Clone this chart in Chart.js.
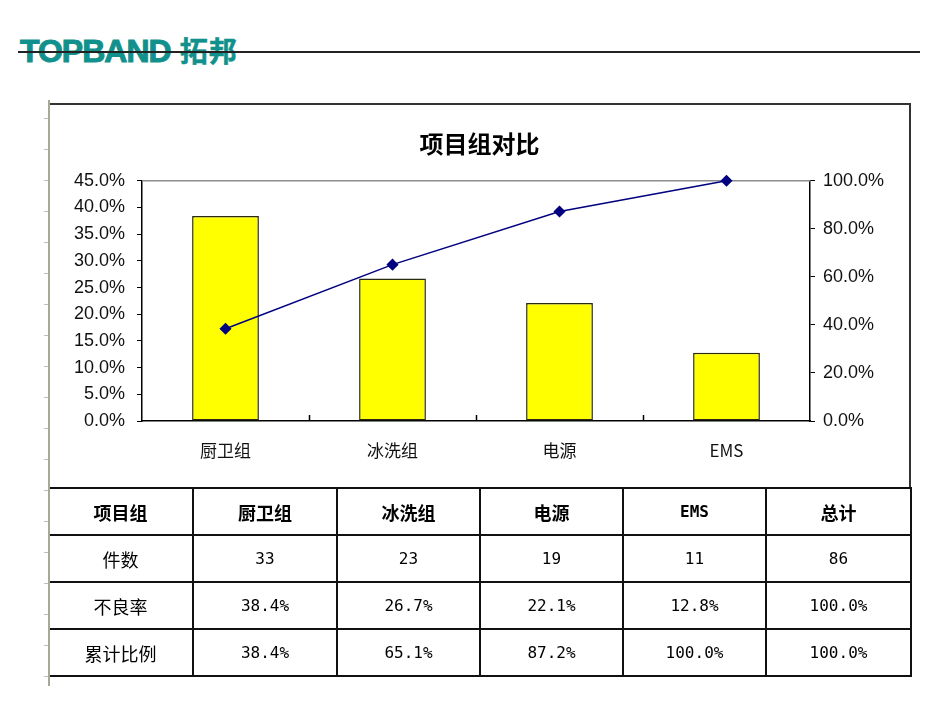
<!DOCTYPE html>
<html>
<head>
<meta charset="utf-8">
<script src="https://cdn.jsdelivr.net/npm/chart.js@4/dist/chart.umd.min.js"></script>
<style>
    body { margin: 0; width: 950px; height: 713px; background: #fff; position: relative; overflow: hidden; }
    #logo { position: absolute; left: 20px; top: 30px; line-height: 33px; color: #12918c; font: bold 32px "Liberation Sans", Arial, sans-serif; letter-spacing: -1px; white-space: nowrap; -webkit-text-stroke: 1px #12918c; }
    #logo span { font: bold 28px "Noto Sans CJK SC", sans-serif; letter-spacing: 1px; margin-left: 9px; -webkit-text-stroke: 0.5px #12918c; }
    #topLine { position: absolute; left: 18px; top: 51px; width: 902px; height: 2px; background: #222; }
    #ruler { position: absolute; left: 48px; top: 100px; width: 2px; height: 586px; background: #a8a898; }
    .rtick { position: absolute; left: 44px; width: 4px; height: 1px; background: #c0c0b0; }
    #chartBox { position: absolute; left: 50px; top: 103px; width: 861px; height: 386px; box-sizing: border-box; border-top: 2px solid #333; border-right: 2px solid #333; }
    #chartBox canvas { display: block; }
    #dataTable { position: absolute; left: 49px; top: 487px; width: 862px; border-collapse: collapse; table-layout: fixed; }
    #dataTable td { border: 2px solid #111; height: 45px; padding: 0; text-align: center; color: #000; font: 18px "Noto Sans CJK SC", sans-serif; }
    #dataTable td:first-child { border-left: none; }
    #dataTable tr.head td { font-weight: bold; }
    #dataTable td.num { font: 16px "DejaVu Sans Mono", monospace; }
    #dataTable tr.head td.num { font-weight: bold; }
</style>
</head>
<body>
<div id="logo">TOPBAND<span>拓邦</span></div>
<div id="topLine"></div>
<div id="chartBox"><canvas id="chartPareto"></canvas></div>
<table id="dataTable">
    <colgroup><col style="width:144px"><col style="width:144px"><col style="width:143px"><col style="width:143px"><col style="width:143px"><col style="width:145px"></colgroup>
    <tbody id="tableBody"></tbody>
</table>
<div id="ruler"></div>
<script>
// dati del grafico
const categorie = ['厨卫组', '冰洗组', '电源', 'EMS'];
const numeroCasi = [33, 23, 19, 11];
const totaleCasi = 86;
const tassoDifetti = [38.4, 26.7, 22.1, 12.8];     // 不良率 (%)
const cumulativo = [38.4, 65.1, 87.2, 100.0];      // 累计比例 (%)
const tassoTotale = 100.0;
const cumulativoTotale = 100.0;
const tickSinistra = { min: 0, max: 45, step: 5 };
const tickDestra = { min: 0, max: 100, step: 20 };

const titoloGrafico = '项目组对比';
const intestazioni = ['项目组', '件数', '不良率', '累计比例', '总计'];

function pct(v) { return v.toFixed(1) + '%'; }

document.addEventListener('DOMContentLoaded', function() {
    disegnaRighello();
    generaTabella();
    generaGrafico();
});

function disegnaRighello() {
    for (let y = 118; y < 686; y += 31) {
        const t = document.createElement('div');
        t.className = 'rtick';
        t.style.top = y + 'px';
        document.body.appendChild(t);
    }
}

function generaTabella() {
    const body = document.getElementById('tableBody');
    const isCjk = s => /[\u4e00-\u9fff]/.test(s);
    const cella = (v) => `<td class="${isCjk(String(v)) ? '' : 'num'}">${v}</td>`;
    const righe = [
        { cls: 'head', cells: [intestazioni[0], ...categorie, intestazioni[4]] },
        { cls: '', cells: [intestazioni[1], ...numeroCasi, totaleCasi] },
        { cls: '', cells: [intestazioni[2], ...tassoDifetti.map(pct), pct(tassoTotale)] },
        { cls: '', cells: [intestazioni[3], ...cumulativo.map(pct), pct(cumulativoTotale)] }
    ];
    body.innerHTML = righe.map(r => `<tr class="${r.cls}">${r.cells.map(cella).join('')}</tr>`).join('');
}

// cornice dell'area del grafico + tacche interne sull'asse X
const cornice = {
    id: 'cornice',
    beforeDatasetsDraw(chart) {
        const { ctx, chartArea: a } = chart;
        const x = chart.scales.x;
        ctx.save();
        ctx.strokeStyle = '#8c8c8c';
        ctx.lineWidth = 1.5;
        ctx.beginPath();
        ctx.moveTo(a.left, a.top);
        ctx.lineTo(a.right, a.top);
        ctx.stroke();
        ctx.strokeStyle = '#000';
        ctx.beginPath();
        for (let i = 0; i < categorie.length - 1; i++) {
            const px = Math.round((x.getPixelForValue(i) + x.getPixelForValue(i + 1)) / 2) + 0.5;
            ctx.moveTo(px, a.bottom);
            ctx.lineTo(px, a.bottom - 6);
        }
        ctx.stroke();
        ctx.restore();
    }
};

function generaGrafico() {
    const box = document.getElementById('chartBox');
    const canvas = document.getElementById('chartPareto');
    canvas.width = box.clientWidth;
    canvas.height = box.clientHeight;

    const fontAsse = { family: '"Liberation Sans", Arial, sans-serif', size: 18 };

    new Chart(canvas, {
        type: 'bar',
        data: {
            labels: categorie,
            datasets: [
                {
                    type: 'line',
                    label: '累计比例',
                    data: cumulativo,
                    yAxisID: 'y1',
                    borderColor: '#000080',
                    borderWidth: 1.5,
                    pointStyle: 'rectRot',
                    pointRadius: 5,
                    pointBackgroundColor: '#000080',
                    pointBorderColor: '#000080',
                    tension: 0,
                    clip: false,
                    order: 0
                },
                {
                    type: 'bar',
                    label: '不良率',
                    data: tassoDifetti,
                    yAxisID: 'y',
                    backgroundColor: '#ffff00',
                    borderColor: '#2a2a10',
                    borderWidth: 1.5,
                    borderSkipped: false,
                    categoryPercentage: 1,
                    barPercentage: 0.4,
                    order: 1
                }
            ]
        },
        options: {
            responsive: false,
            animation: false,
            layout: { padding: 0, autoPadding: false },
            plugins: {
                legend: { display: false },
                tooltip: { enabled: false },
                title: {
                    display: true,
                    text: titoloGrafico,
                    color: '#000',
                    font: { family: '"Noto Sans CJK SC", sans-serif', size: 24, weight: 'bold' },
                    padding: { top: 24, bottom: 23 }
                }
            },
            scales: {
                x: {
                    offset: true,
                    grid: { display: true, drawOnChartArea: false, drawTicks: false },
                    border: { color: '#000', width: 1.5 },
                    ticks: { color: '#111', padding: 19, font: { family: '"Noto Sans CJK SC", sans-serif', size: 17 } },
                    afterFit: s => { s.height = 68; }
                },
                y: {
                    position: 'left',
                    min: tickSinistra.min,
                    max: tickSinistra.max,
                    grid: { drawOnChartArea: false, tickLength: 5, color: '#000' },
                    border: { color: '#000', width: 1.5 },
                    ticks: { stepSize: tickSinistra.step, color: '#111', padding: 12, font: fontAsse, callback: v => pct(v) },
                    afterFit: s => { s.width = 92; }
                },
                y1: {
                    position: 'right',
                    min: tickDestra.min,
                    max: tickDestra.max,
                    grid: { drawOnChartArea: false, tickLength: 5, color: '#000' },
                    border: { color: '#000', width: 1.5 },
                    ticks: { stepSize: tickDestra.step, color: '#111', padding: 8, font: fontAsse, callback: v => pct(v) },
                    afterFit: s => { s.width = 99; }
                }
            }
        },
        plugins: [cornice]
    });
}
</script>
</body>
</html>
